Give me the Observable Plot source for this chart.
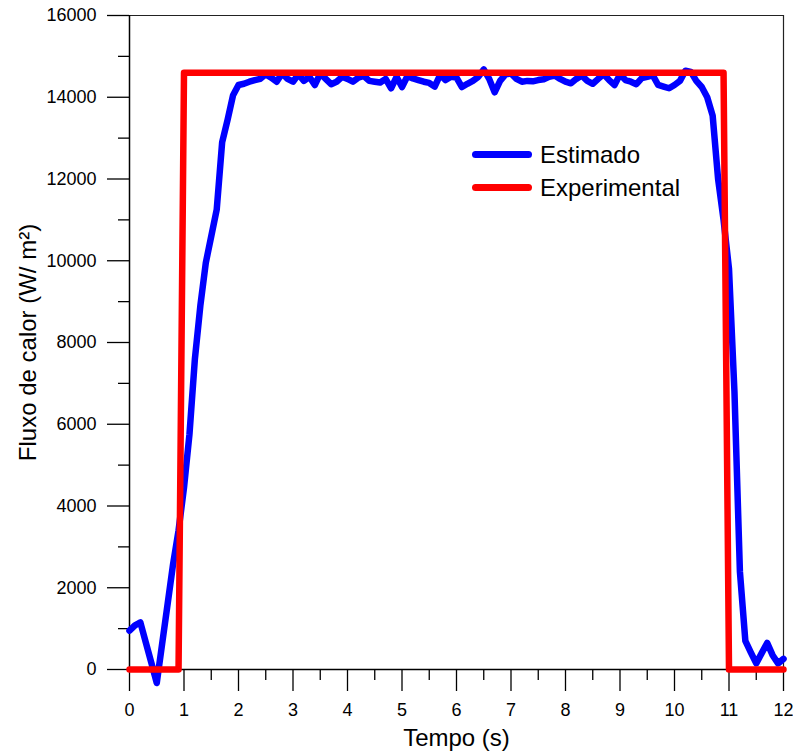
<!DOCTYPE html>
<html>
<head>
<meta charset="utf-8">
<script src="https://cdn.jsdelivr.net/npm/d3@7"></script>
<script src="https://cdn.jsdelivr.net/npm/@observablehq/plot@0.6"></script>
<style>
  html, body { margin: 0; padding: 0; background: #fff; overflow: hidden; }
  #chart svg g[aria-label="x-axis tick label"],
  #chart svg g[aria-label="y-axis tick label"] { font-size: 18px !important; }
</style>
</head>
<body>
<div id="chart"></div>
<script>
// ---- Data ----
const tempoEstimado = [
  0.0, 0.1, 0.2, 0.3, 0.4, 0.5, 0.6, 0.7, 0.8, 0.9,
  1.0, 1.1, 1.2, 1.3, 1.4, 1.5, 1.6, 1.7, 1.8, 1.9,
  2.0, 2.1, 2.2, 2.3, 2.4, 2.5, 2.6, 2.7, 2.8, 2.9,
  3.0, 3.1, 3.2, 3.3, 3.4, 3.5, 3.6, 3.7, 3.8, 3.9,
  4.0, 4.1, 4.2, 4.3, 4.4, 4.5, 4.6, 4.7, 4.8, 4.9,
  5.0, 5.1, 5.2, 5.3, 5.4, 5.5, 5.6, 5.7, 5.8, 5.9,
  6.0, 6.1, 6.2, 6.3, 6.4, 6.5, 6.6, 6.7, 6.8, 6.9,
  7.0, 7.1, 7.2, 7.3, 7.4, 7.5, 7.6, 7.7, 7.8, 7.9,
  8.0, 8.1, 8.2, 8.3, 8.4, 8.5, 8.6, 8.7, 8.8, 8.9,
  9.0, 9.1, 9.2, 9.3, 9.4, 9.5, 9.6, 9.7, 9.8, 9.9,
  10.0, 10.1, 10.2, 10.3, 10.4, 10.5, 10.6, 10.7, 10.8, 10.9,
  11.0, 11.1, 11.2, 11.3, 11.4, 11.5, 11.6, 11.7, 11.8, 11.9,
  12.0
];
const fluxoEstimado = [
  950, 1080, 1150, 660, 170, -330, 640, 1610, 2580, 3400,
  4450, 5750, 7600, 8900, 9950, 10600, 11250, 12900, 13450, 14050,
  14300, 14330, 14380, 14420, 14450, 14560, 14480, 14380, 14580, 14450,
  14380, 14560, 14400, 14500, 14300, 14580, 14450, 14320, 14380, 14500,
  14450, 14380, 14480, 14520, 14400, 14380, 14360, 14450, 14220, 14500,
  14250, 14520, 14460, 14420, 14380, 14350, 14260, 14550, 14420, 14500,
  14480, 14250, 14330, 14400, 14500, 14680, 14450, 14120, 14400, 14560,
  14580, 14450, 14380, 14400, 14390, 14420, 14440, 14500, 14530, 14450,
  14380, 14340, 14450, 14530, 14400, 14330, 14450, 14560, 14420, 14300,
  14560, 14420, 14380, 14320, 14470, 14500, 14540, 14300, 14260, 14220,
  14300, 14400, 14650, 14620, 14400, 14250, 14000, 13550, 12000, 11000,
  9800, 6800, 2400, 700, 420, 150, 400, 650, 350, 150,
  260
];
const tempoExperimental = [0, 0.9, 1.0, 10.9, 11.0, 12];
const fluxoExperimental = [0, 0, 14600, 14600, 0, 0];

const xTicks = [0, 1, 2, 3, 4, 5, 6, 7, 8, 9, 10, 11, 12];
const xMinorTicks = [0.5, 1.5, 2.5, 3.5, 4.5, 5.5, 6.5, 7.5, 8.5, 9.5, 10.5, 11.5];
const yTicks = [0, 2000, 4000, 6000, 8000, 10000, 12000, 14000, 16000];
const yMinorTicks = [1000, 3000, 5000, 7000, 9000, 11000, 13000, 15000];

const seriesNames = ["Estimado", "Experimental"];
const seriesColors = ["#0000ff", "#ff0000"];
const xTitle = "Tempo (s)";
const yTitle = "Fluxo de calor (W/ m²)";

// ---- Tables built from the arrays ----
const estimado = tempoEstimado.map((t, i) => ({t, v: fluxoEstimado[i]}));
const experimental = tempoExperimental.map((t, i) => ({t, v: fluxoExperimental[i]}));

const FONT = "'Liberation Sans', Arial, Helvetica, sans-serif";

// legend drawn inside the frame (a render-function mark)
function legendMark(index, scales, values, dimensions) {
  const g = d3.create("svg:g").attr("font-family", FONT).attr("font-size", 24);
  seriesNames.forEach((name, i) => {
    const yy = 154.5 + i * 33;
    g.append("line")
      .attr("x1", 475.5).attr("x2", 528.5)
      .attr("y1", yy).attr("y2", yy)
      .attr("stroke", seriesColors[i])
      .attr("stroke-width", 7)
      .attr("stroke-linecap", "round");
    g.append("text")
      .attr("x", 540).attr("y", yy + 8.5)
      .attr("text-anchor", "start")
      .attr("fill", "black")
      .text(name);
  });
  return g.node();
}

const chart = Plot.plot({
  width: 793,
  height: 751,
  marginLeft: 129,
  marginRight: 10,
  marginTop: 15,
  marginBottom: 82,
  x: {domain: [0, 12]},
  y: {domain: [0, 16000]},
  style: {fontFamily: FONT, fontSize: "18px", color: "black", background: "white"},
  marks: [
    // frame
    Plot.ruleY([16000], {stroke: "#222", strokeWidth: 1.2}),
    Plot.ruleX([12], {stroke: "#222", strokeWidth: 1.2}),
    // axes
    Plot.axisX({ticks: xTicks, tickSize: 22, tickPadding: 12, tickFormat: d => String(d), label: null, fontSize: 18, strokeWidth: 1.3}),
    Plot.axisX({ticks: xMinorTicks, tickSize: 11, tickFormat: () => "", label: null, strokeWidth: 1.3}),
    Plot.axisY({ticks: yTicks, tickSize: 22, tickPadding: 11, tickFormat: d3.format("d"), label: null, fontSize: 18, strokeWidth: 1.3}),
    Plot.axisY({ticks: yMinorTicks, tickSize: 11, tickFormat: () => "", label: null, strokeWidth: 1.3}),
    Plot.ruleY([0], {stroke: "black", strokeWidth: 1.5}),
    Plot.ruleX([0], {stroke: "black", strokeWidth: 1.5}),
    // data
    Plot.line(estimado, {x: "t", y: "v", stroke: seriesColors[0], strokeWidth: 6.5, strokeLinejoin: "round", strokeLinecap: "round"}),
    Plot.line(experimental, {x: "t", y: "v", stroke: seriesColors[1], strokeWidth: 6.5, strokeLinejoin: "round", strokeLinecap: "round"}),
    // titles
    Plot.text([xTitle], {text: d => d, frameAnchor: "bottom", dy: 69, fontSize: 24, fill: "black", textAnchor: "middle", lineAnchor: "middle"}),
    Plot.text([yTitle], {text: d => d, frameAnchor: "left", rotate: -90, dx: -101, fontSize: 24, fill: "black", textAnchor: "middle", lineAnchor: "middle"}),
    legendMark
  ]
});

document.getElementById("chart").appendChild(chart);
</script>
</body>
</html>
